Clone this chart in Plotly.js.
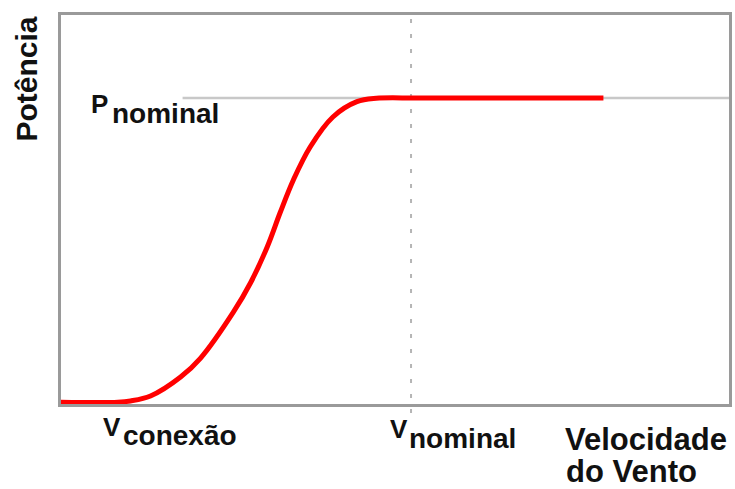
<!DOCTYPE html>
<html><head><meta charset="utf-8">
<script src="https://cdn.plot.ly/plotly-3.0.1.min.js"></script>
<style>html,body{margin:0;padding:0;background:#fff}</style>
</head><body><div id="chart" style="width:735px;height:489px"></div>
<script>
// Power curve (wind speed in arbitrary units, power as fraction of nominal)
const windSpeed = [0, 0.85, 1.04, 1.34, 1.79, 2.09, 2.58, 2.84, 3.09, 3.28, 3.48, 3.73, 4.07, 4.43, 4.72, 5.3, 6.0, 6.8, 7.5, 8.12];
const power     = [0.006, 0.006, 0.01, 0.026, 0.088, 0.15, 0.30, 0.397, 0.515, 0.625, 0.733, 0.840, 0.938, 0.988, 0.999, 1.0, 1.0, 1.0, 1.0, 1.0];
// Nominal power reference line
const nominalLineX = [1.82, 10];
const nominalLineY = [1, 1];
// Nominal wind speed
const nominalSpeed = 5.24;
// Labels
const yLabel = 'Potência';
const xLabelLines = ['Velocidade', 'do Vento'];
const pLabel = ['P', 'nominal'];
const vCutInLabel = ['V', 'conexão'];
const vNominalLabel = ['V', 'nominal'];

const font = 'Liberation Sans, Arial, sans-serif';
const ink = '#111';
const W = 735, H = 489, L = 61, R = 6, T = 15, B = 85;
const pw = W - L - R, ph = H - T - B;
const bottomPx = H - B, nominalPx = 98;
const px = v => (v - L) / pw;
const py = v => (bottomPx - v) / ph;

function ann(text, x, y, size, opts) {
  return Object.assign({text: text, xref: 'paper', yref: 'paper', x: px(x), y: py(y),
    xanchor: 'left', yanchor: 'middle', showarrow: false,
    font: {family: font, size: size, color: ink, weight: 'bold'}}, opts || {});
}

const traces = [
  {x: nominalLineX, y: nominalLineY, mode: 'lines', line: {color: '#c8c8c8', width: 2.5}, hoverinfo: 'skip'},
  {x: windSpeed, y: power, mode: 'lines', line: {color: '#ff0000', width: 5, shape: 'spline', smoothing: 1}, hoverinfo: 'skip', cliponaxis: false}
];

const axisBase = {showline: true, mirror: true, linecolor: '#9a9a9a', linewidth: 3, showgrid: false,
  zeroline: false, showticklabels: false, ticks: '', layer: 'below traces', fixedrange: true};

const layout = {
  width: W, height: H,
  margin: {l: L, r: R, t: T, b: B, pad: 0},
  paper_bgcolor: '#fff', plot_bgcolor: '#fff',
  showlegend: false,
  xaxis: Object.assign({range: [0, 10]}, axisBase),
  yaxis: Object.assign({range: [0, (bottomPx - T) / (bottomPx - nominalPx)]}, axisBase),
  shapes: [{type: 'line', xref: 'x', yref: 'paper', x0: nominalSpeed, x1: nominalSpeed, y0: py(413), y1: 1,
    line: {color: '#b5b5b5', width: 2, dash: '4px,11px'}, layer: 'below'}],
  annotations: [
    ann(yLabel, 26.5, 79, 30, {textangle: -90, xanchor: 'center'}),
    ann(pLabel[0], 89, 104, 26),
    ann(pLabel[1], 110, 113, 28),
    ann(vCutInLabel[0], 101, 427, 26),
    ann(vCutInLabel[1], 121, 436, 28),
    ann(vNominalLabel[0], 388, 429, 26),
    ann(vNominalLabel[1], 407, 438, 28),
    ann(xLabelLines[0], 563, 439, 31),
    ann(xLabelLines[1], 564, 471, 31)
  ]
};
Plotly.newPlot('chart', traces, layout, {displayModeBar: false, staticPlot: true});
</script></body></html>
